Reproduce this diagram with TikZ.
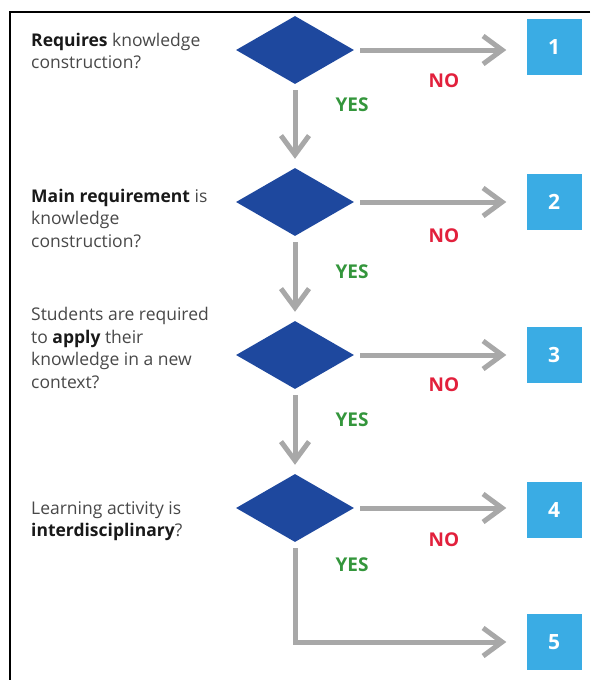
\documentclass[tikz,border=0pt]{standalone}
\usepackage{fontspec}
\setmainfont{Open Sans}
\usetikzlibrary{shapes.geometric,arrows.meta}
\definecolor{decblue}{RGB}{30,72,158}
\definecolor{boxblue}{RGB}{58,172,228}
\definecolor{flowgray}{RGB}{168,168,168}
\definecolor{yesgreen}{RGB}{52,150,60}
\definecolor{nored}{RGB}{226,32,60}
\definecolor{textgray}{RGB}{72,72,72}
\newcommand\keyword[1]{\textcolor{black!90}{\textbf{#1}}}

\begin{document}
\begin{tikzpicture}[x=1pt,y=-1pt,
  decision/.style={diamond, fill=decblue, minimum width=118pt, minimum height=68pt, inner sep=0pt},
  outcome/.style={fill=boxblue, minimum width=55pt, minimum height=56pt, inner sep=0pt, text=white, font=\fontsize{21}{24}\selectfont\bfseries},
  question/.style={anchor=west, align=left, text=textgray, inner sep=0pt, font=\fontsize{17.5}{22.5}\selectfont},
  answer/.style={inner sep=0pt, font=\fontsize{19}{22}\selectfont\bfseries},
  flow/.style={draw=flowgray, line width=5pt, shorten <=6pt, -{Straight Barb[length=19pt,width=28pt]}}]
\useasboundingbox (0,0) rectangle (590,680);
\draw[line width=2pt] (590,12) -- (10,12) -- (10,680);

\node[question] (t1) at (31,51) {\keyword{Requires} knowledge\\construction?};
\node[question] (t2) at (31,218) {\keyword{Main requirement} is\\knowledge\\construction?};
\node[question] (t3) at (31,348) {Students are required\\to \keyword{apply} their\\knowledge in a new\\context?};
\node[question] (t4) at (31,521) {Learning activity is\\\keyword{interdisciplinary}?};

\node[decision] (q1) at (295,50) {};
\node[decision] (q2) at (295,202) {};
\node[decision] (q3) at (295,355) {};
\node[decision] (q4) at (295,508) {};

\node[outcome] (r1) at (554,47) {1};
\node[outcome] (r2) at (554,202) {2};
\node[outcome] (r3) at (554,355) {3};
\node[outcome] (r4) at (554,510) {4};
\node[outcome] (r5) at (554,642) {5};

\draw[flow, shorten >=20pt] (q1.east) -- (q1.east -| r1.west);
\draw[flow, shorten >=20pt] (q2.east) -- (r2.west);
\draw[flow, shorten >=20pt] (q3.east) -- (r3.west);
\draw[flow, shorten >=20pt] (q4.east) -- (q4.east -| r4.west);
\draw[flow, shorten >=9pt] (q1.south) -- (q2.north);
\draw[flow, shorten >=9pt] (q2.south) -- (q3.north);
\draw[flow, shorten >=9pt] (q3.south) -- (q4.north);
\draw[flow, shorten >=20pt] (q4.south) |- (r5.west);

\node[answer, text=nored] (n1) at (444,81) {NO};
\node[answer, text=nored] (n2) at (444,236) {NO};
\node[answer, text=nored] (n3) at (444,385) {NO};
\node[answer, text=nored] (n4) at (444,540) {NO};
\node[answer, text=yesgreen] (y1) at (352,105) {YES};
\node[answer, text=yesgreen] (y2) at (352,272) {YES};
\node[answer, text=yesgreen] (y3) at (352,420) {YES};
\node[answer, text=yesgreen] (y4) at (352,565) {YES};
\end{tikzpicture}
\end{document}
